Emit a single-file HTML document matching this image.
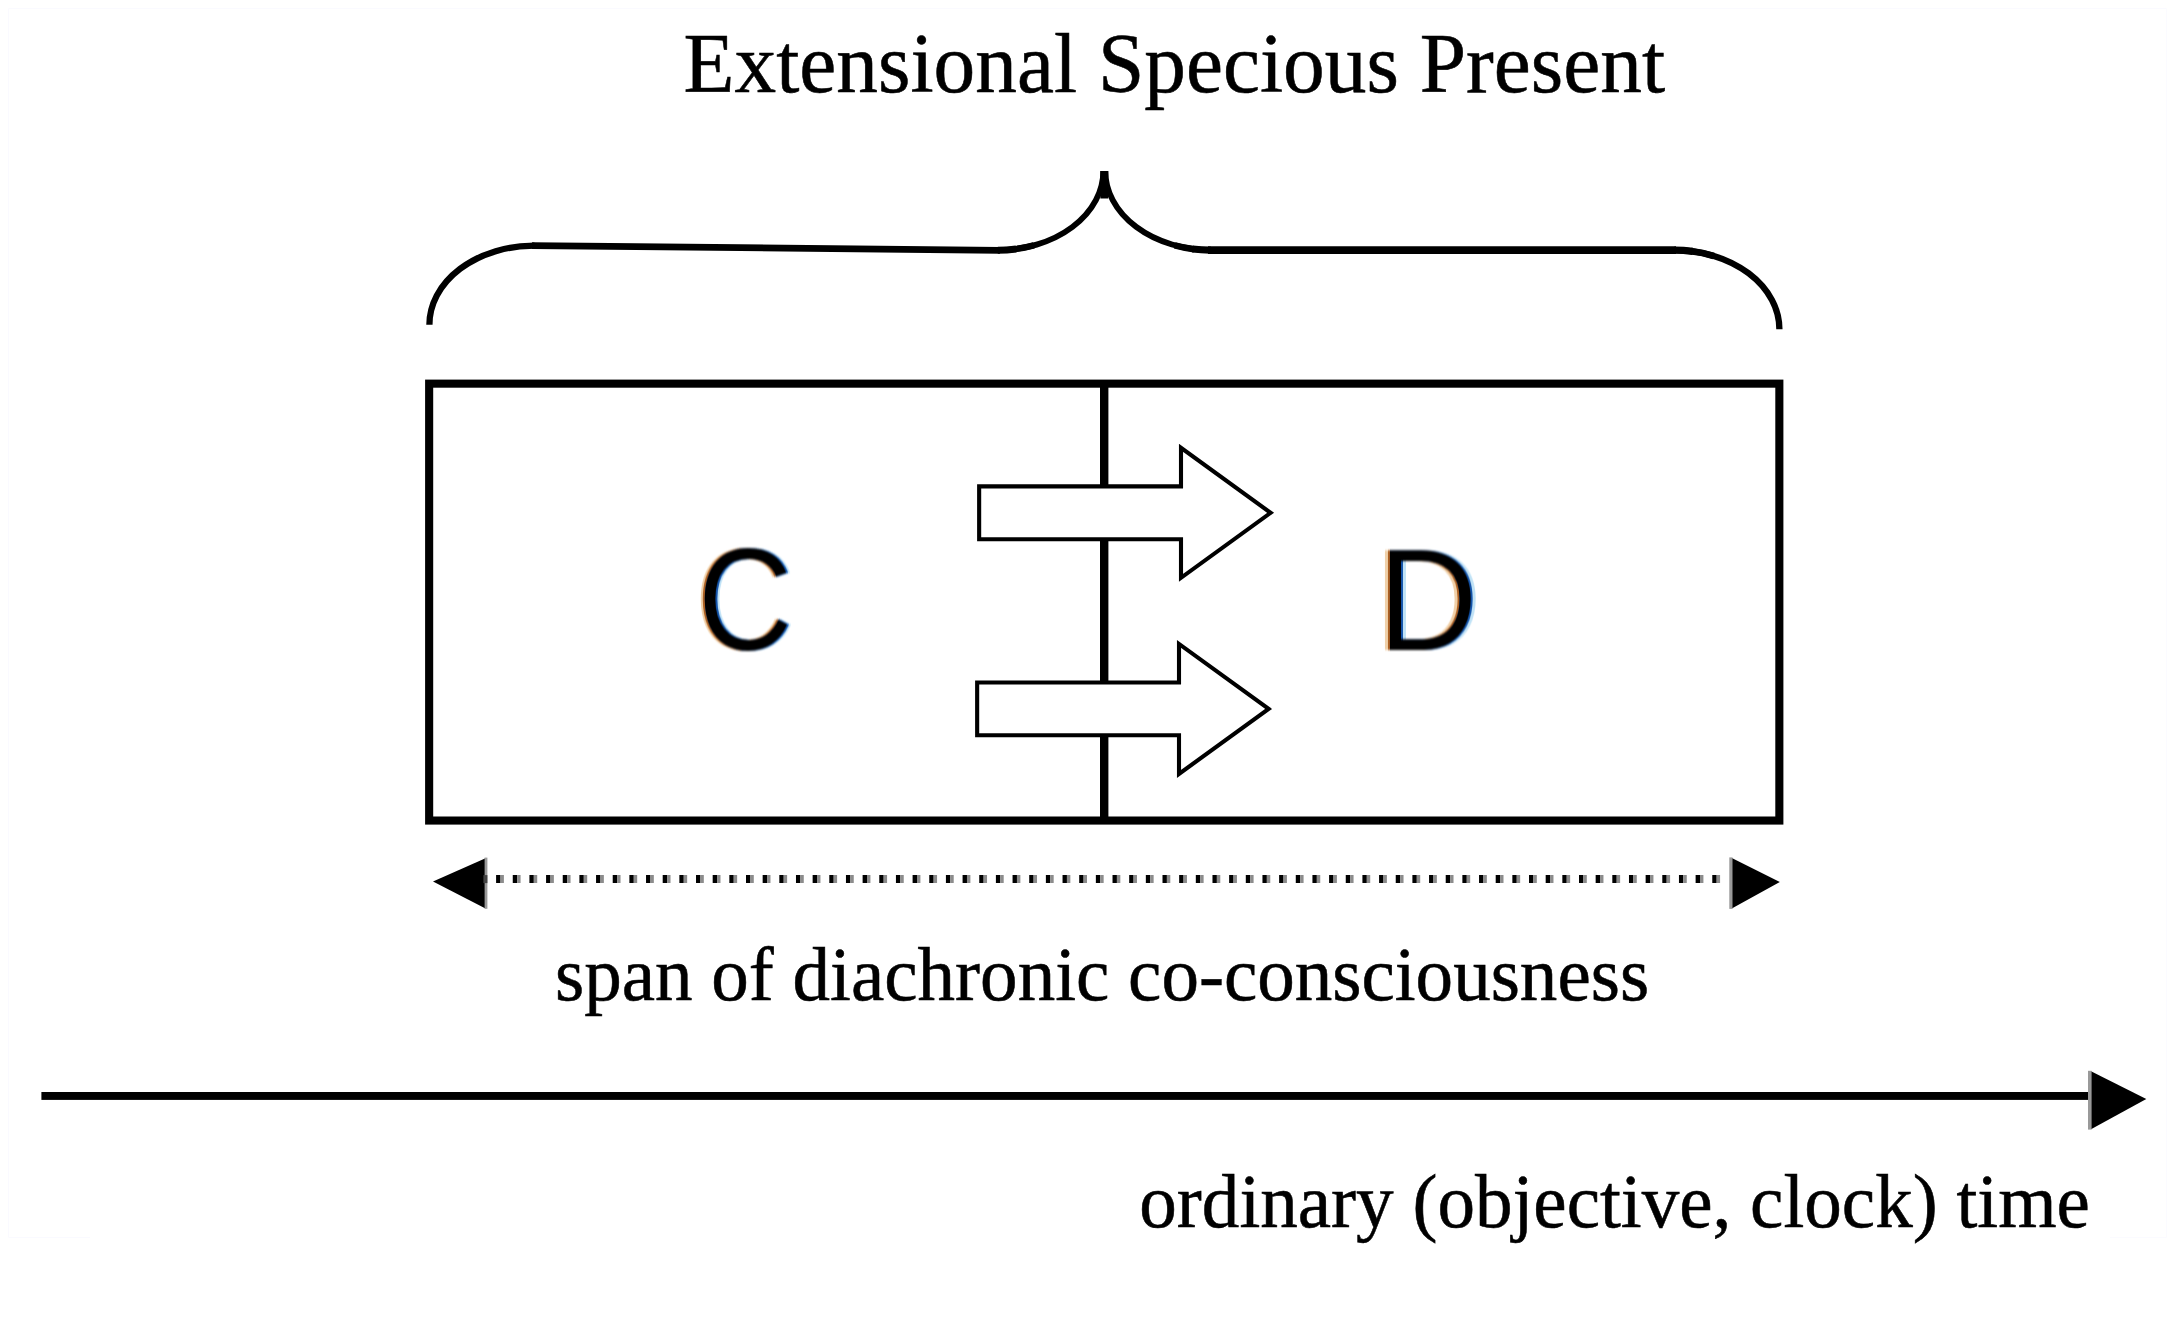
<!DOCTYPE html>
<html>
<head>
<meta charset="utf-8">
<title>Extensional Specious Present</title>
<style>
  html, body { margin: 0; padding: 0; background: #ffffff; }
  body { width: 2175px; height: 1322px; overflow: hidden; position: relative; }
  svg { position: absolute; left: 0; top: 0; display: block; }
  .t { position: absolute; white-space: nowrap; color: #000; line-height: 1; margin: 0; }
  .serif { font-family: "Liberation Serif", serif; -webkit-text-stroke: 0.55px #000; }
  .sans { font-family: "Liberation Sans", sans-serif; }
  .lcd { font-size: 144.8px; transform-origin: 0 0; filter: url(#lcd); padding: 0 12px; margin-left: -12px; }
</style>
</head>
<body>
<svg width="2175" height="1322" viewBox="0 0 2175 1322">
  <defs><filter id="soft" x="-5%" y="-20%" width="110%" height="140%"><feGaussianBlur stdDeviation="0.55"/></filter>
    <filter id="lcd" x="-10%" y="-10%" width="120%" height="120%" color-interpolation-filters="sRGB">
      <feOffset in="SourceAlpha" dx="-3.8" dy="0" result="L2"/>
      <feOffset in="SourceAlpha" dx="3.8" dy="0" result="R2"/>
      <feOffset in="SourceAlpha" dx="-1.2" dy="0" result="L"/>
      <feOffset in="SourceAlpha" dx="1.1" dy="0" result="R"/>
      <feComposite in="L" in2="R" operator="in" result="K"/>
      <feFlood flood-color="rgb(240,208,168)" result="f1"/>
      <feComposite in="f1" in2="L2" operator="in" result="LT"/>
      <feFlood flood-color="rgb(192,226,246)" result="f2"/>
      <feComposite in="f2" in2="R2" operator="in" result="RT"/>
      <feFlood flood-color="rgb(172,96,34)" result="fo"/>
      <feComposite in="fo" in2="L" operator="in" result="LO"/>
      <feFlood flood-color="rgb(20,84,170)" result="fb"/>
      <feComposite in="fb" in2="R" operator="in" result="RB"/>
      <feMerge result="M"><feMergeNode in="LT"/><feMergeNode in="RT"/><feMergeNode in="LO"/><feMergeNode in="RB"/><feMergeNode in="K"/></feMerge>
      <feGaussianBlur in="M" stdDeviation="0.8"/>
    </filter></defs>
  <!-- very faint page frame -->
  <path d="M90,1237.5 H8.5 V8.5 H2166.5" fill="none" stroke="#fafaff" stroke-width="1"/>
  <path d="M2166.5,8.5 V1237.5 H2110" fill="none" stroke="#fbfbff" stroke-width="1"/>

  <!-- brace -->
  <g fill="none" stroke="#000" filter="url(#soft)">
    <path d="M429.4,324.8 A105,79.2 0 0 1 534.4,245.6" stroke-width="6.3"/>
    <path d="M532,245.6 L1000,250.3" stroke-width="6.8"/>
    <path d="M997.8,250.2 A105.5,79.2 0 0 0 1103.3,171" stroke-width="5.8"/>
    <path d="M1105.3,171 A105.5,79.2 0 0 0 1210.8,250.1" stroke-width="5.8"/>
    <path d="M1104.3,171 V198.5" stroke-width="7.9"/>
    <!-- tapers where bars flow into curves -->
    <path d="M1674.4,250.1 A105,79.2 0 0 1 1692.6,251.3" stroke-width="7.4"/>
    <path d="M1691,251.1 A105,79.2 0 0 1 1713.7,255.9" stroke-width="6.8"/>
    <path d="M1210.8,250.1 A105.5,79.2 0 0 1 1192.5,249" stroke-width="7.2"/>
    <path d="M1194,249.2 A105.5,79.2 0 0 1 1174.7,245.4" stroke-width="6.5"/>
    <path d="M997.8,250.2 A105.5,79.2 0 0 0 1016.1,249" stroke-width="7"/>
    <path d="M1015,249.1 A105.5,79.2 0 0 0 1033.9,245.4" stroke-width="6.4"/>
    <path d="M1208,250.1 H1676" stroke-width="7.6"/>
    <path d="M1674.4,250.1 A105,79.2 0 0 1 1779.4,329.3" stroke-width="6.3"/>
  </g>

  <!-- main box -->
  <rect x="429.15" y="383.65" width="1350.2" height="436.9" fill="none" stroke="#000" stroke-width="8.1"/>
  <!-- divider -->
  <rect x="1100" y="383" width="8.4" height="438" fill="#000"/>

  <!-- block arrows -->
  <path d="M979.15,486.4 H1181 V447.8 L1270.6,512.8 L1181,577.8 V539.2 H979.15 Z" fill="#fff" stroke="#000" stroke-width="4.1" stroke-linejoin="miter" stroke-miterlimit="10"/>
  <path d="M977.15,682.5 H1179 V643.9 L1268.6,708.9 L1179,773.9 V735.3 H977.15 Z" fill="#fff" stroke="#000" stroke-width="4.1" stroke-linejoin="miter" stroke-miterlimit="10"/>

  <!-- dotted double arrow -->
  <path d="M496.1,879.1 H1722" fill="none" stroke="#000" stroke-width="8" stroke-dasharray="4.4 12.26"/>
  <path d="M500.5,879.1 H1722" fill="none" stroke="#8c8c8c" stroke-width="8" stroke-dasharray="3.4 13.26"/>
  <rect x="483" y="875.1" width="4" height="8" fill="#555"/>
  <polygon points="433,881.6 485.5,858.2 485.5,908.4" fill="#000"/>
  <rect x="484.6" y="857.6" width="2.8" height="51.2" fill="#999"/>
  <rect x="483.4" y="875.1" width="4" height="8" fill="#444"/>
  <polygon points="1779.8,882 1731.8,858 1731.8,908.5" fill="#000"/>
  <rect x="1729.3" y="857.4" width="3.2" height="51.5" fill="#999"/>

  <!-- time axis -->
  <rect x="41.4" y="1092" width="2048" height="7.9" fill="#000"/>
  <polygon points="2146.3,1098.9 2091,1071.3 2091,1129.2" fill="#000"/>
  <rect x="2088" y="1070.8" width="3.6" height="58.8" fill="#999"/>
</svg>

<div class="t serif" id="t1" style="left:683.6px; top:22.2px; font-size:83.35px; transform-origin:0 0; transform:scaleY(1.015);">Extensional Specious Present</div>
<div class="t serif" id="t2" style="left:555px; top:936.1px; font-size:75.05px; transform-origin:0 0; transform:scaleY(1.01);">span of diachronic co-consciousness</div>
<div class="t serif" id="t3" style="left:1139.3px; top:1163.4px; font-size:75.08px; transform-origin:0 0; transform:scaleY(1.01);">ordinary (objective, clock) time</div>
<div class="t sans lcd" id="tc" style="left:697.9px; top:528.1px; transform:scaleX(0.92);">C</div>
<div class="t sans lcd" id="td" style="left:1378px; top:527.8px; transform:scaleX(0.965);">D</div>
</body>
</html>
